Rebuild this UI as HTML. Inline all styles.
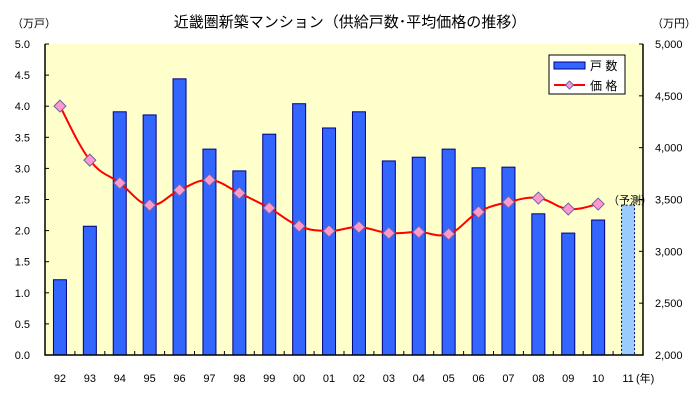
<!DOCTYPE html>
<html><head><meta charset="utf-8"><style>
body{margin:0;background:#fff;}
svg text{font-family:"Liberation Sans","Noto Sans CJK JP",sans-serif;}
</style></head><body>
<svg id="c" width="700" height="406" xmlns="http://www.w3.org/2000/svg">
<rect width="700" height="406" fill="#fff"/>
<text x="350" y="27" text-anchor="middle" font-size="15" fill="#000">近畿圏新築マンション（供給戸数･平均価格の推移）</text>
<text x="12" y="27" font-size="11">（万戸）</text>
<text x="652" y="27" font-size="11">（万円）</text>
<rect x="45" y="44" width="598" height="311" fill="#ffffcc"/>
<g id="bars"></g>
<g id="line"></g>
<g id="axes"></g>
<g>
<rect x="549" y="55" width="76" height="39" fill="#fff" stroke="#000"/>
<rect x="554" y="62" width="31" height="7" fill="#3366ff" stroke="#000080"/>
<text x="590" y="70" font-size="12">戸 数</text>
<line x1="554" y1="85" x2="585" y2="85" stroke="#ff0000" stroke-width="2"/>
<polygon points="569.5,81 573.5,85 569.5,89 565.5,85" fill="#ff99cc" stroke="#6666aa"/>
<text x="590" y="90" font-size="12">価 格</text>
</g>
<text x="608" y="204" font-size="11">（予測）</text>
<line x1="635" y1="200" x2="642" y2="200" stroke="#000" stroke-dasharray="1,2"/>
</svg>
<script>
const categories=["92","93","94","95","96","97","98","99","00","01","02","03","04","05","06","07","08","09","10","11"];
const units=[1.21,2.07,3.91,3.86,4.44,3.31,2.96,3.55,4.04,3.65,3.91,3.12,3.18,3.31,3.01,3.02,2.27,1.96,2.17,2.41];
const prices=[4401,3880,3659,3446,3591,3688,3562,3418,3244,3196,3234,3176,3186,3167,3379,3475,3514,3408,3456];
const leftTicks=["0.0","0.5","1.0","1.5","2.0","2.5","3.0","3.5","4.0","4.5","5.0"];
const rightTicks=["2,000","2,500","3,000","3,500","4,000","4,500","5,000"];
const NS="http://www.w3.org/2000/svg";
const L=45,R=643,T=44,B=355,step=(R-L)/categories.length;
const xc=i=>L+step*(i+0.5);
const yl=v=>B-(v/5)*(B-T);
const yr=v=>B-((v-2000)/3000)*(B-T);
function mk(tag,attrs,parent){const e=document.createElementNS(NS,tag);for(const k in attrs)e.setAttribute(k,attrs[k]);parent.appendChild(e);return e;}
const bars=document.getElementById('bars'),line=document.getElementById('line'),axes=document.getElementById('axes');
units.forEach((v,i)=>{
 const fc=i===units.length-1;
 const r=mk('rect',{x:xc(i)-6.5,y:yl(v),width:13,height:B-yl(v),fill:fc?'#99ccff':'#3366ff',stroke:'#000080','stroke-width':1,'stroke-dasharray':fc?'2,2':'none'},bars);
 
 
});
const pts=prices.map((v,i)=>[xc(i),yr(v)]);
let d='M'+pts[0][0]+','+pts[0][1];
for(let i=0;i<pts.length-1;i++){
 const p0=pts[i-1]||pts[i],p1=pts[i],p2=pts[i+1],p3=pts[i+2]||p2,t=0.2;
 d+=' C'+(p1[0]+(p2[0]-p0[0])*t)+','+(p1[1]+(p2[1]-p0[1])*t)+' '+(p2[0]-(p3[0]-p1[0])*t)+','+(p2[1]-(p3[1]-p1[1])*t)+' '+p2[0]+','+p2[1];
}
const pl=mk('path',{d:d,fill:'none',stroke:'#ff0000','stroke-width':2},line);


pts.forEach((p,i)=>{
 const m=mk('polygon',{points:`${p[0]},${p[1]-6} ${p[0]+6},${p[1]} ${p[0]},${p[1]+6} ${p[0]-6},${p[1]}`,fill:'#ff99cc',stroke:'#6666aa'},line);
 
 
});
mk('polyline',{points:`${L},${T} ${L},${B} ${R},${B} ${R},${T}`,fill:'none',stroke:'#000','stroke-width':1.5},axes);
leftTicks.forEach((t,i)=>{
 const y=yl(i*0.5);
 mk('line',{x1:L,y1:y,x2:L+4,y2:y,stroke:'#000'},axes);
 const tx=mk('text',{x:30,y:y+4,'font-size':11,'text-anchor':'end'},axes);tx.textContent=t;
 
 
});
rightTicks.forEach((t,i)=>{
 const y=yr(2000+i*500);
 mk('line',{x1:R,y1:y,x2:R-4,y2:y,stroke:'#000'},axes);
 const tx=mk('text',{x:655,y:y+4,'font-size':11},axes);tx.textContent=t;
 
 
});
categories.forEach((c,i)=>{
 mk('line',{x1:L+step*(i+1),y1:B,x2:L+step*(i+1),y2:B-4,stroke:'#000'},axes);
 const tx=mk('text',{x:xc(i),y:382,'font-size':11,'text-anchor':'middle'},axes);tx.textContent=c;
 
 
});
const yt=mk('text',{x:636,y:382,'font-size':11},axes);yt.textContent='(年)';


</script>
</body></html>
